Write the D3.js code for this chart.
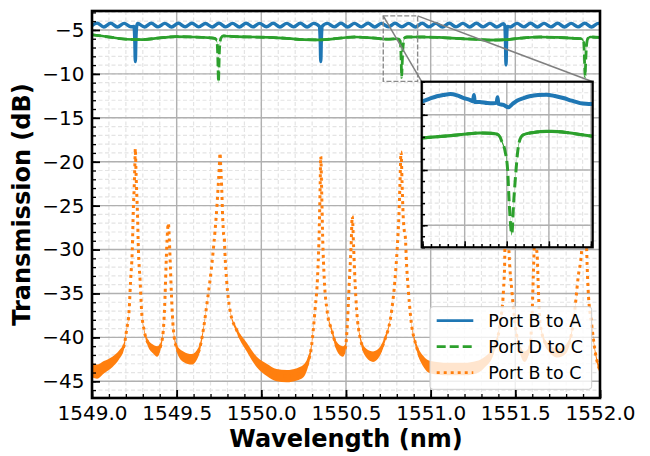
<!DOCTYPE html>
<html>
<head>
<meta charset="utf-8">
<script src="https://cdn.jsdelivr.net/npm/d3@7"></script>
<style>
  body { margin: 0; background: #fff; }
  svg { display: block; font-family: "DejaVu Sans", sans-serif; }
</style>
</head>
<body>
<div id="chart"></div>
<script>
// ---- data ----
var xDomain = [1549.0, 1552.0];
var yDomain = [-46.9, -2.84];
var seriesNames = ["Port B to A", "Port D to C", "Port B to C"];

// Port B to A : [wavelength nm, dB]
var portBA = [
  [1549.00,-4.50],[1549.03,-4.22],[1549.07,-4.66],[1549.11,-4.24],[1549.15,-4.66],[1549.19,-4.25],
  [1549.23,-4.64],[1549.248,-4.60],[1549.253,-6.30],[1549.256,-8.60],[1549.259,-6.30],[1549.264,-4.55],
  [1549.27,-4.26],[1549.31,-4.66],[1549.35,-4.24],[1549.39,-4.65],[1549.43,-4.25],[1549.47,-4.66],
  [1549.51,-4.24],[1549.55,-4.64],[1549.59,-4.23],[1549.63,-4.65],[1549.67,-4.26],[1549.71,-4.66],
  [1549.75,-4.24],[1549.79,-4.65],[1549.83,-4.25],[1549.87,-4.66],[1549.91,-4.23],[1549.95,-4.65],
  [1549.99,-4.25],[1550.03,-4.64],[1550.07,-4.24],[1550.11,-4.66],[1550.15,-4.25],[1550.19,-4.65],
  [1550.23,-4.24],[1550.27,-4.66],[1550.31,-4.25],[1550.343,-4.60],[1550.348,-6.30],[1550.351,-8.60],
  [1550.354,-6.30],[1550.359,-4.60],[1550.39,-4.25],[1550.43,-4.65],[1550.47,-4.24],[1550.51,-4.66],
  [1550.55,-4.25],[1550.59,-4.65],[1550.63,-4.23],[1550.67,-4.66],[1550.71,-4.25],[1550.75,-4.65],
  [1550.79,-4.24],[1550.83,-4.64],[1550.87,-4.25],[1550.91,-4.66],[1550.95,-4.24],[1550.99,-4.65],
  [1551.03,-4.25],[1551.07,-4.66],[1551.11,-4.24],[1551.15,-4.65],[1551.19,-4.25],[1551.23,-4.66],
  [1551.27,-4.24],[1551.31,-4.65],[1551.35,-4.25],[1551.39,-4.66],[1551.43,-4.30],[1551.438,-4.50],
  [1551.442,-6.50],[1551.445,-9.00],[1551.448,-6.50],[1551.452,-4.60],[1551.47,-4.66],[1551.51,-4.25],
  [1551.55,-4.65],[1551.59,-4.24],[1551.63,-4.66],[1551.67,-4.25],[1551.71,-4.65],[1551.75,-4.24],
  [1551.79,-4.66],[1551.83,-4.25],[1551.87,-4.65],[1551.91,-4.24],[1551.95,-4.66],[1551.99,-4.25],
  [1552.00,-4.30]
];

// Port D to C : [wavelength nm, dB]
var portDC = [
  [1549.00,-5.55],[1549.10,-5.80],[1549.20,-6.05],[1549.30,-6.10],[1549.40,-5.90],[1549.50,-5.75],
  [1549.60,-5.80],[1549.70,-5.90],[1549.725,-5.95],[1549.738,-6.30],[1549.742,-7.60],[1549.745,-9.80],
  [1549.747,-10.90],[1549.749,-9.80],[1549.752,-7.60],[1549.756,-6.50],[1549.762,-5.90],[1549.775,-5.68],
  [1549.85,-5.75],[1549.95,-5.80],[1550.05,-5.85],[1550.15,-5.95],[1550.25,-6.10],[1550.35,-6.12],
  [1550.45,-5.95],[1550.55,-5.80],[1550.65,-5.90],[1550.75,-6.05],[1550.805,-6.00],[1550.820,-6.25],
  [1550.824,-7.40],[1550.827,-9.30],[1550.829,-10.40],[1550.831,-9.30],[1550.835,-7.40],[1550.839,-6.50],
  [1550.846,-5.90],[1550.86,-5.80],[1550.95,-5.80],[1551.05,-5.85],[1551.15,-5.95],[1551.25,-6.05],
  [1551.35,-6.15],[1551.45,-6.10],[1551.55,-5.90],[1551.65,-5.80],[1551.75,-5.85],[1551.85,-5.95],
  [1551.890,-6.00],[1551.903,-6.30],[1551.907,-7.50],[1551.910,-9.40],[1551.912,-10.30],[1551.914,-9.40],
  [1551.918,-7.50],[1551.922,-6.50],[1551.929,-5.95],[1551.945,-5.80],[1552.00,-5.85]
];

// Port B to C : [wavelength nm, dB, noise half-spread dB]
var portBC = [
  [1549.000,-43.7,0.8],[1549.030,-43.9,0.8],[1549.070,-43.4,0.7],[1549.120,-42.8,0.6],[1549.160,-42.0,0.5],
  [1549.190,-40.9,0.4],[1549.204,-39.2,0.2],[1549.219,-37.0,0.1],[1549.228,-33.5,0],[1549.238,-30.0,0],
  [1549.244,-25.5,0],[1549.249,-23.0,0],[1549.253,-20.5,0],[1549.256,-18.5,0],[1549.259,-20.5,0],
  [1549.263,-23.0,0],[1549.268,-25.5,0],[1549.274,-30.0,0],[1549.284,-33.5,0],[1549.293,-37.0,0.1],
  [1549.308,-39.2,0.2],[1549.330,-40.6,0.4],[1549.360,-41.3,0.5],[1549.385,-41.6,0.6],[1549.405,-41.0,0.4],
  [1549.421,-39.2,0.2],[1549.431,-35.5,0],[1549.437,-32.0,0],[1549.443,-29.0,0],[1549.451,-27.0,0],
  [1549.457,-29.0,0],[1549.463,-32.0,0],[1549.470,-35.5,0],[1549.480,-39.0,0.2],[1549.500,-41.2,0.4],
  [1549.540,-42.2,0.6],[1549.590,-42.5,0.6],[1549.630,-41.6,0.5],[1549.657,-39.2,0.3],[1549.680,-36.0,0.1],
  [1549.697,-33.5,0],[1549.714,-30.5,0],[1549.726,-28.0,0],[1549.738,-25.0,0],[1549.746,-22.5,0],
  [1549.752,-20.5,0],[1549.756,-19.0,0],[1549.760,-20.5,0],[1549.766,-23.0,0],[1549.772,-26.5,0],
  [1549.777,-28.2,0],[1549.781,-28.6,0],[1549.785,-30.4,0],[1549.795,-33.5,0],[1549.815,-36.9,0.1],
  [1549.855,-39.2,0.3],[1549.914,-41.1,0.5],[1549.973,-42.8,0.6],[1550.032,-43.7,0.7],[1550.090,-44.3,0.7],
  [1550.150,-44.4,0.7],[1550.210,-44.2,0.7],[1550.250,-43.8,0.7],[1550.272,-43.0,0.6],[1550.297,-40.9,0.4],
  [1550.317,-36.9,0.1],[1550.331,-33.5,0],[1550.341,-28.4,0],[1550.347,-23.1,0],[1550.351,-19.4,0],
  [1550.356,-23.1,0],[1550.362,-28.4,0],[1550.372,-33.5,0],[1550.388,-36.9,0.1],[1550.416,-39.2,0.3],
  [1550.445,-41.0,0.5],[1550.480,-41.6,0.6],[1550.495,-41.3,0.5],[1550.506,-39.2,0.2],[1550.520,-33.5,0],
  [1550.530,-29.7,0],[1550.537,-26.2,0],[1550.545,-29.7,0],[1550.553,-33.5,0],[1550.563,-36.9,0.1],
  [1550.583,-40.0,0.3],[1550.620,-41.8,0.5],[1550.660,-42.2,0.6],[1550.700,-41.6,0.5],[1550.725,-40.5,0.4],
  [1550.770,-36.9,0.1],[1550.789,-33.5,0],[1550.803,-29.7,0],[1550.813,-25.9,0],[1550.819,-22.3,0],
  [1550.825,-18.9,0],[1550.831,-22.3,0],[1550.837,-25.9,0],[1550.845,-28.0,0],[1550.850,-28.5,0],
  [1550.858,-31.8,0],[1550.868,-34.6,0],[1550.882,-37.7,0.1],[1550.917,-41.1,0.4],[1550.956,-42.7,0.6],
  [1551.000,-43.4,0.7],[1551.100,-43.6,0.7],[1551.200,-43.6,0.7],[1551.270,-43.4,0.7],[1551.320,-42.8,0.6],
  [1551.370,-41.5,0.5],[1551.410,-38.4,0.2],[1551.430,-34.6,0],[1551.437,-31.5,0],[1551.440,-27.0,0],
  [1551.443,-22.0,0],[1551.446,-19.4,0],[1551.450,-22.0,0],[1551.456,-27.0,0],[1551.465,-31.2,0],
  [1551.479,-34.6,0],[1551.498,-38.4,0.2],[1551.525,-41.2,0.4],[1551.555,-42.2,0.6],[1551.580,-41.5,0.4],
  [1551.597,-38.4,0.1],[1551.606,-33.0,0],[1551.612,-29.5,0],[1551.618,-26.5,0],[1551.624,-29.5,0],
  [1551.630,-31.0,0],[1551.636,-34.6,0],[1551.646,-38.4,0.1],[1551.685,-40.9,0.4],[1551.750,-41.8,0.5],
  [1551.800,-41.3,0.5],[1551.842,-38.4,0.2],[1551.872,-33.0,0],[1551.892,-30.0,0],[1551.902,-24.0,0],
  [1551.908,-19.0,0],[1551.914,-24.0,0],[1551.922,-30.5,0],[1551.930,-34.6,0],[1551.950,-38.4,0.1],
  [1551.975,-42.0,0.3],[1552.000,-43.8,0.4]
];
var greenNoise = 0.15;      // dB, band of the noisy D to C trace

// zoomed region marked on the main plot, and the inset's own view
var zoomX = [1550.720, 1550.923];
var zoomY = [-10.85, -3.40];
var insetXDomain = [1550.749, 1550.952];
var insetYDomain = [-11.0, -3.5];
var insetYMajor = [-10, -7.5, -5];

var insetBA = [
  [1550.749,-4.40],[1550.758,-4.28],[1550.767,-4.16],[1550.775,-4.10],[1550.783,-4.06],[1550.791,-4.12],
  [1550.799,-4.24],[1550.806,-4.32],[1550.810,-4.38],[1550.811,-4.10],[1550.812,-4.42],[1550.818,-4.42],
  [1550.827,-4.47],[1550.834,-4.48],[1550.838,-4.45],[1550.839,-4.20],[1550.840,-4.50],[1550.846,-4.55],
  [1550.852,-4.66],[1550.857,-4.50],[1550.862,-4.36],[1550.870,-4.24],[1550.877,-4.16],[1550.887,-4.10],
  [1550.897,-4.09],[1550.907,-4.15],[1550.917,-4.24],[1550.927,-4.36],[1550.937,-4.47],[1550.944,-4.50],
  [1550.952,-4.51]
];
var insetDC = [
  [1550.749,-6.05],[1550.765,-6.00],[1550.787,-5.93],[1550.805,-5.86],[1550.818,-5.82],[1550.832,-5.84],
  [1550.838,-5.87],[1550.842,-6.00],[1550.844,-6.20],[1550.848,-6.65],[1550.851,-7.49],[1550.853,-9.07],
  [1550.856,-10.40],[1550.858,-9.07],[1550.861,-7.49],[1550.863,-6.65],[1550.865,-6.20],[1550.867,-6.00],
  [1550.870,-5.90],[1550.882,-5.80],[1550.897,-5.75],[1550.910,-5.76],[1550.921,-5.80],[1550.935,-5.88],
  [1550.952,-5.97]
];
var insetGreenNoise = 0.07;

// ---- layout ----
var width = 650, height = 456;
var margin = { top: 11, right: 50, bottom: 58, left: 92 };
var innerWidth = width - margin.left - margin.right;
var innerHeight = height - margin.top - margin.bottom;
var blue = "#1f77b4", green = "#2ca02c", orange = "#ff7f0e";

var x = d3.scaleLinear().domain(xDomain).range([0, innerWidth]);
var y = d3.scaleLinear().domain(yDomain).range([innerHeight, 0]);

var svg = d3.select("#chart").append("svg").attr("width", width).attr("height", height);
var defs = svg.append("defs");
defs.append("clipPath").attr("id", "clip-main").append("rect")
    .attr("width", innerWidth).attr("height", innerHeight);

var g = svg.append("g").attr("transform", `translate(${margin.left},${margin.top})`);

// grid helper (minor dashed, major solid)
function drawGrid(sel, xs, ys, w, h, xMinor, xMajor, yMinor, yMajor) {
    var grid = sel.append("g");
    grid.selectAll(".xm").data(xMinor).join("line")
        .attr("x1", d => xs(d)).attr("x2", d => xs(d)).attr("y1", 0).attr("y2", h)
        .attr("stroke", "#e4e4e4").attr("stroke-width", 1.2).attr("stroke-dasharray", "4,2.5");
    grid.selectAll(".ym").data(yMinor).join("line")
        .attr("y1", d => ys(d)).attr("y2", d => ys(d)).attr("x1", 0).attr("x2", w)
        .attr("stroke", "#e4e4e4").attr("stroke-width", 1.2).attr("stroke-dasharray", "4,2.5");
    grid.selectAll(".xM").data(xMajor).join("line")
        .attr("x1", d => xs(d)).attr("x2", d => xs(d)).attr("y1", 0).attr("y2", h)
        .attr("stroke", "#b0b0b0").attr("stroke-width", 1.4);
    grid.selectAll(".yM").data(yMajor).join("line")
        .attr("y1", d => ys(d)).attr("y2", d => ys(d)).attr("x1", 0).attr("x2", w)
        .attr("stroke", "#b0b0b0").attr("stroke-width", 1.4);
}

var xMajor = x.ticks(6), xMinor = x.ticks(30);
var yMajor = y.ticks(9), yMinor = y.ticks(44);
drawGrid(g, x, y, innerWidth, innerHeight, xMinor, xMajor, yMinor, yMajor);

// line / band generators
function lineGen(xs, ys) {
    return d3.line().x(d => xs(d[0])).y(d => ys(d[1])).curve(d3.curveMonotoneX);
}
function bandGen(xs, ys, spread) {
    return d3.area().x(d => xs(d[0]))
        .y0(d => ys(d[1] - spread(d))).y1(d => ys(d[1] + spread(d)))
        .curve(d3.curveMonotoneX);
}

var plot = g.append("g").attr("clip-path", "url(#clip-main)");

// Port B to A
plot.append("path").datum(portBA).attr("d", lineGen(x, y))
    .attr("fill", "none").attr("stroke", blue).attr("stroke-width", 3.4).attr("stroke-linejoin", "round");

// Port D to C
plot.append("path").datum(portDC).attr("d", bandGen(x, y, () => greenNoise)).attr("fill", green);
plot.append("path").datum(portDC).attr("d", lineGen(x, y))
    .attr("fill", "none").attr("stroke", green).attr("stroke-width", 2.8).attr("stroke-dasharray", "9,4");

// Port B to C
plot.append("path").datum(portBC).attr("d", bandGen(x, y, d => d[2])).attr("fill", orange);
plot.append("path").datum(portBC).attr("d", lineGen(x, y))
    .attr("fill", "none").attr("stroke", orange).attr("stroke-width", 3).attr("stroke-dasharray", "3,4");

// ---- axes (ticks inward) ----
var fmtY = d3.format(".0f"), fmtX = d3.format(".1f");

var yAxis = g.append("g").call(d3.axisLeft(y).tickValues(yMajor).tickSize(-8).tickPadding(7.5).tickFormat(fmtY));
var yAxisMinor = g.append("g").call(d3.axisLeft(y).tickValues(yMinor).tickSize(-4));
var xAxis = g.append("g").attr("transform", `translate(0,${innerHeight})`)
    .call(d3.axisBottom(x).tickValues(xMajor).tickSize(-8).tickPadding(7.3).tickFormat(fmtX));
var xAxisMinor = g.append("g").attr("transform", `translate(0,${innerHeight})`)
    .call(d3.axisBottom(x).tickValues(xMinor).tickSize(-4));

[yAxis, yAxisMinor, xAxis, xAxisMinor].forEach(function (a) {
    a.select(".domain").remove();
    a.selectAll("line").attr("stroke", "#000").attr("stroke-width", 1.8);
    a.selectAll("text").attr("fill", "#000").style("font-size", "20px").style("font-family", "DejaVu Sans");
});
// minor ticks carry no labels
yAxisMinor.selectAll("text").remove();
xAxisMinor.selectAll("text").remove();
yAxisMinor.selectAll("line").attr("stroke-width", 1.3);
xAxisMinor.selectAll("line").attr("stroke-width", 1.3);

// spines
g.append("rect").attr("width", innerWidth).attr("height", innerHeight)
    .attr("fill", "none").attr("stroke", "#000").attr("stroke-width", 2.6);

// axis labels
g.append("text")
    .attr("x", innerWidth / 2).attr("y", 447 - margin.top)
    .attr("text-anchor", "middle").attr("fill", "#000")
    .style("font-size", "24px").style("font-weight", "bold")
    .text("Wavelength (nm)");

g.append("text")
    .attr("transform", "rotate(-90)")
    .attr("x", -innerHeight / 2).attr("y", 30 - margin.left)
    .attr("text-anchor", "middle").attr("fill", "#000")
    .style("font-size", "24px").style("font-weight", "bold")
    .text("Transmission (dB)");

// ---- inset ----
var inset = { left: 421.7, top: 81.7, width: 171, height: 165.6 };
var xi = d3.scaleLinear().domain(insetXDomain).range([0, inset.width]);
var yi = d3.scaleLinear().domain(insetYDomain).range([inset.height, 0]);
var insetYMinor = d3.range(insetYDomain[0], insetYDomain[1] + 0.01, 0.5);

// zoom marker box + connectors
var rx0 = margin.left + x(zoomX[0]), rx1 = margin.left + x(zoomX[1]);
var ry0 = margin.top + y(zoomY[1]), ry1 = margin.top + y(zoomY[0]);
svg.append("rect")
    .attr("x", rx0).attr("y", ry0).attr("width", rx1 - rx0).attr("height", ry1 - ry0)
    .attr("fill", "none").attr("stroke", "#8a8a8a").attr("stroke-width", 1.4).attr("stroke-dasharray", "5,2");
svg.append("line").attr("x1", rx0).attr("y1", ry0).attr("x2", inset.left).attr("y2", inset.top)
    .attr("stroke", "#808080").attr("stroke-width", 1.5);
svg.append("line").attr("x1", rx1).attr("y1", ry0).attr("x2", inset.left + inset.width).attr("y2", inset.top)
    .attr("stroke", "#808080").attr("stroke-width", 1.5);

defs.append("clipPath").attr("id", "clip-inset").append("rect")
    .attr("width", inset.width).attr("height", inset.height);

var gi = svg.append("g").attr("transform", `translate(${inset.left},${inset.top})`);
gi.append("rect").attr("width", inset.width).attr("height", inset.height).attr("fill", "#fff");

drawGrid(gi, xi, yi, inset.width, inset.height, xi.ticks(20), xi.ticks(4), insetYMinor, insetYMajor);

var iplot = gi.append("g").attr("clip-path", "url(#clip-inset)");
iplot.append("path").datum(insetBA).attr("d", lineGen(xi, yi))
    .attr("fill", "none").attr("stroke", blue).attr("stroke-width", 4).attr("stroke-linejoin", "round");
iplot.append("path").datum(insetDC).attr("d", bandGen(xi, yi, () => insetGreenNoise)).attr("fill", green);
iplot.append("path").datum(insetDC).attr("d", lineGen(xi, yi))
    .attr("fill", "none").attr("stroke", green).attr("stroke-width", 3).attr("stroke-dasharray", "10,5");

// inset ticks, inward, no labels
var iy = gi.append("g").call(d3.axisLeft(yi).tickValues(insetYMajor).tickSize(-6));
var iyMinor = gi.append("g").call(d3.axisLeft(yi).tickValues(insetYMinor).tickSize(-3.3));
var ix = gi.append("g").attr("transform", `translate(0,${inset.height})`)
    .call(d3.axisBottom(xi).tickValues(xi.ticks(4)).tickSize(-6));
var ixMinor = gi.append("g").attr("transform", `translate(0,${inset.height})`)
    .call(d3.axisBottom(xi).tickValues(xi.ticks(20)).tickSize(-3.3));
[iy, iyMinor, ix, ixMinor].forEach(function (a) {
    a.select(".domain").remove();
    a.selectAll("text").remove();
    a.selectAll("line").attr("stroke", "#000").attr("stroke-width", 1.5);
});
gi.append("rect").attr("width", inset.width).attr("height", inset.height)
    .attr("fill", "none").attr("stroke", "#000").attr("stroke-width", 2.2);

// ---- legend ----
var legend = svg.append("g").attr("transform", "translate(430,306.7)");
legend.append("rect")
    .attr("width", 161.7).attr("height", 82.6).attr("rx", 3)
    .attr("fill", "#fff").attr("fill-opacity", 0.8)
    .attr("stroke", "#cccccc").attr("stroke-width", 1);

var legendStyles = [
    { color: blue, dash: null },
    { color: green, dash: "9,4" },
    { color: orange, dash: "3,4" }
];
seriesNames.forEach(function (name, i) {
    var cy = 14 + i * 26;
    legend.append("line")
        .attr("x1", 6.7).attr("x2", 43.3).attr("y1", cy).attr("y2", cy)
        .attr("stroke", legendStyles[i].color).attr("stroke-width", 2.8)
        .attr("stroke-dasharray", legendStyles[i].dash);
    legend.append("text")
        .attr("x", 58.3).attr("y", cy + 6.3)
        .attr("fill", "#000").style("font-size", "17.5px")
        .text(name);
});
</script>
</body>
</html>
